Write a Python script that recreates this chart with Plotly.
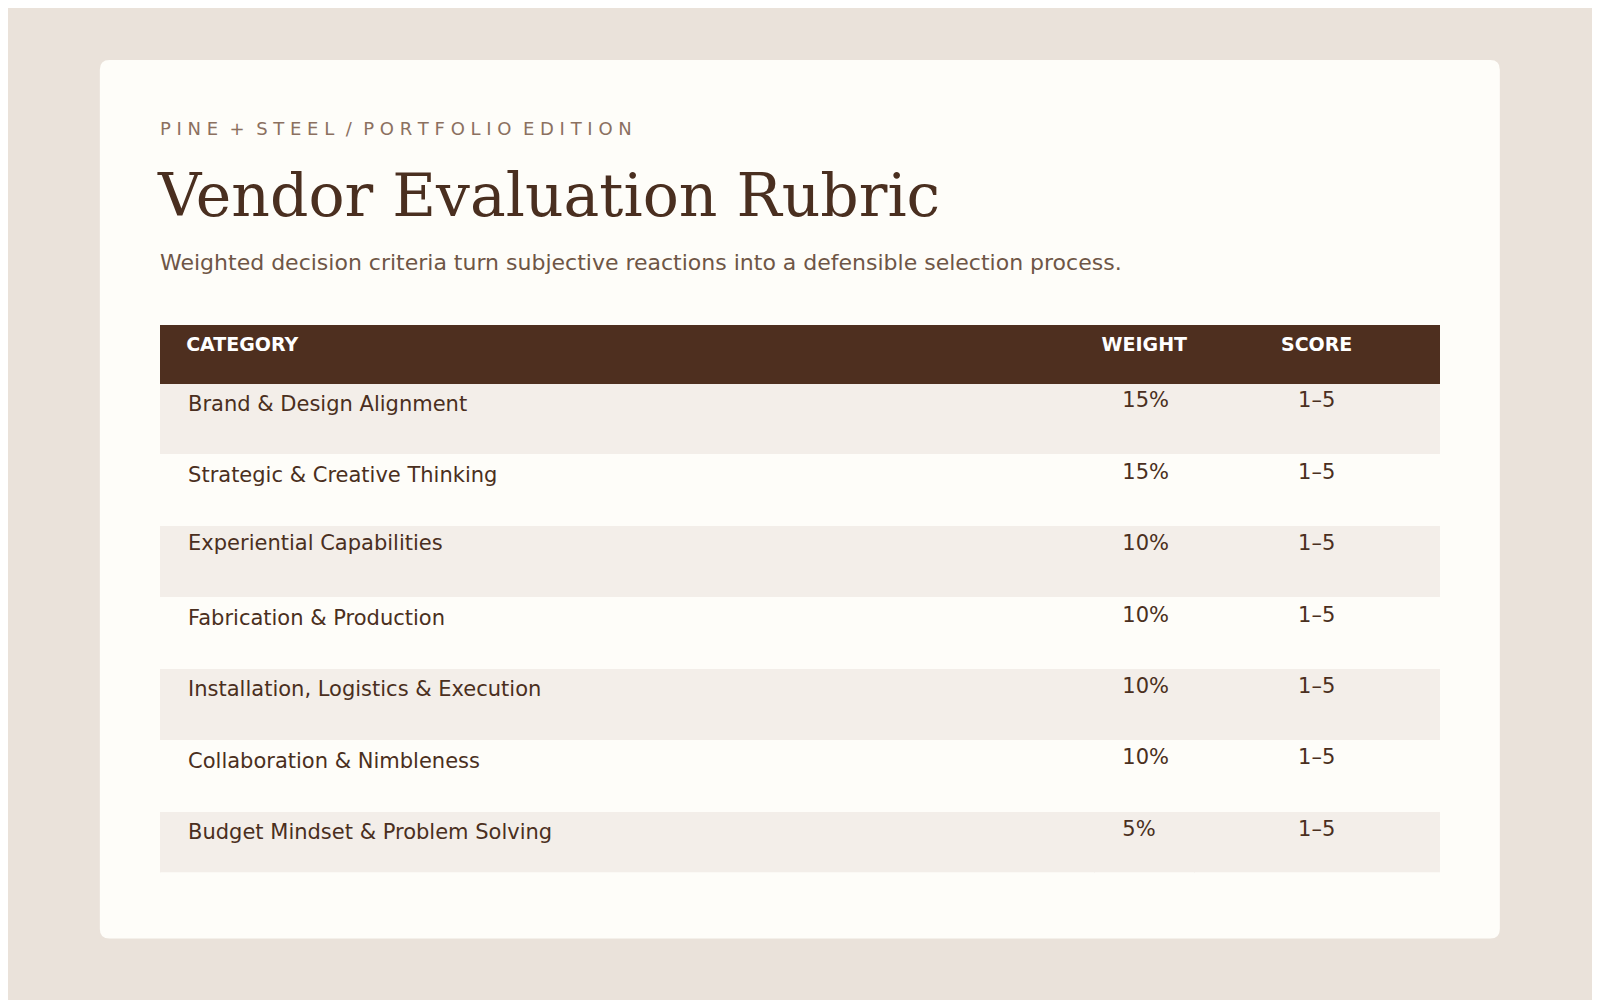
import plotly.graph_objects as go

categories = ["Brand & Design Alignment", "Strategic & Creative Thinking", "Experiential Capabilities",
              "Fabrication & Production", "Installation, Logistics & Execution",
              "Collaboration & Nimbleness", "Budget Mindset & Problem Solving"]
weights = ["15%", "15%", "10%", "10%", "10%", "10%", "5%"]
scores = ["1–5"] * 7
headers = ["CATEGORY", "WEIGHT", "SCORE"]

W, H = 1600, 1000
sy = H / 980
ox, oy = 8 / 1568, 8 / 980  # compensate page offset


def px(x):
    return x / 1568 - ox


def py(y):
    return 1 - y / 980 + oy


ink = "#4A2F20"
fills = ["#F3EEE9" if i % 2 == 0 else "#FEFDF9" for i in range(len(categories))]


def pad(vals):
    return ["   " + v for v in vals]


table = go.Table(
    domain=dict(x=[px(157), px(1411)], y=[py(856), py(319)]),
    columnwidth=[916, 98, 240],
    header=dict(values=["   <b>%s</b>" % headers[0], "<b>%s</b>" % headers[1], "<b>%s</b>" % headers[2]],
                fill_color="#4E2F1F", line_color="#4E2F1F", align=["left", "center", "center"],
                font=dict(family="DejaVu Sans", size=19, color="white"), height=57 * sy),
    cells=dict(values=[pad(categories), pad(weights), scores], fill_color=[fills] * 3,
               line_color=[fills] * 3, align=["left", "left", "center"],
               font=dict(family="DejaVu Sans", size=21, color=ink), height=70 * sy),
)

fig = go.Figure(table)

x0, x1, y0, y1, r = px(98), px(1470), py(920), py(59), 0.006
rx, ry = r, r * W / H
card = (f"M {x0+rx},{y0} L {x1-rx},{y0} Q {x1},{y0} {x1},{y0+ry} L {x1},{y1-ry} Q {x1},{y1} {x1-rx},{y1} "
        f"L {x0+rx},{y1} Q {x0},{y1} {x0},{y1-ry} L {x0},{y0+ry} Q {x0},{y0} {x0+rx},{y0} Z")
fig.add_shape(type="path", path=card, xref="paper", yref="paper", fillcolor="#FEFDF9",
              line_width=0, layer="below")

left = px(155)
fig.add_annotation(text="P I N E  +  S T E E L  /  P O R T F O L I O  E D I T I O N", x=left, y=py(126),
                   xref="paper", yref="paper", xanchor="left", yanchor="middle", showarrow=False,
                   font=dict(family="DejaVu Sans", size=18, color="#8B7060"))
fig.add_annotation(text="Vendor Evaluation Rubric", x=left - 0.002, y=py(191),
                   xref="paper", yref="paper", xanchor="left", yanchor="middle", showarrow=False,
                   font=dict(family="DejaVu Serif", size=60, color=ink))
fig.add_annotation(text="Weighted decision criteria turn subjective reactions into a defensible selection process.",
                   x=left, y=py(257), xref="paper", yref="paper", xanchor="left", yanchor="middle",
                   showarrow=False, font=dict(family="DejaVu Sans", size=22, color="#6E5646"))

fig.update_layout(width=W, height=H, paper_bgcolor="#EAE2DA", plot_bgcolor="#EAE2DA",
                  margin=dict(l=0, r=0, t=0, b=0))
fig.write_html("out.html")
